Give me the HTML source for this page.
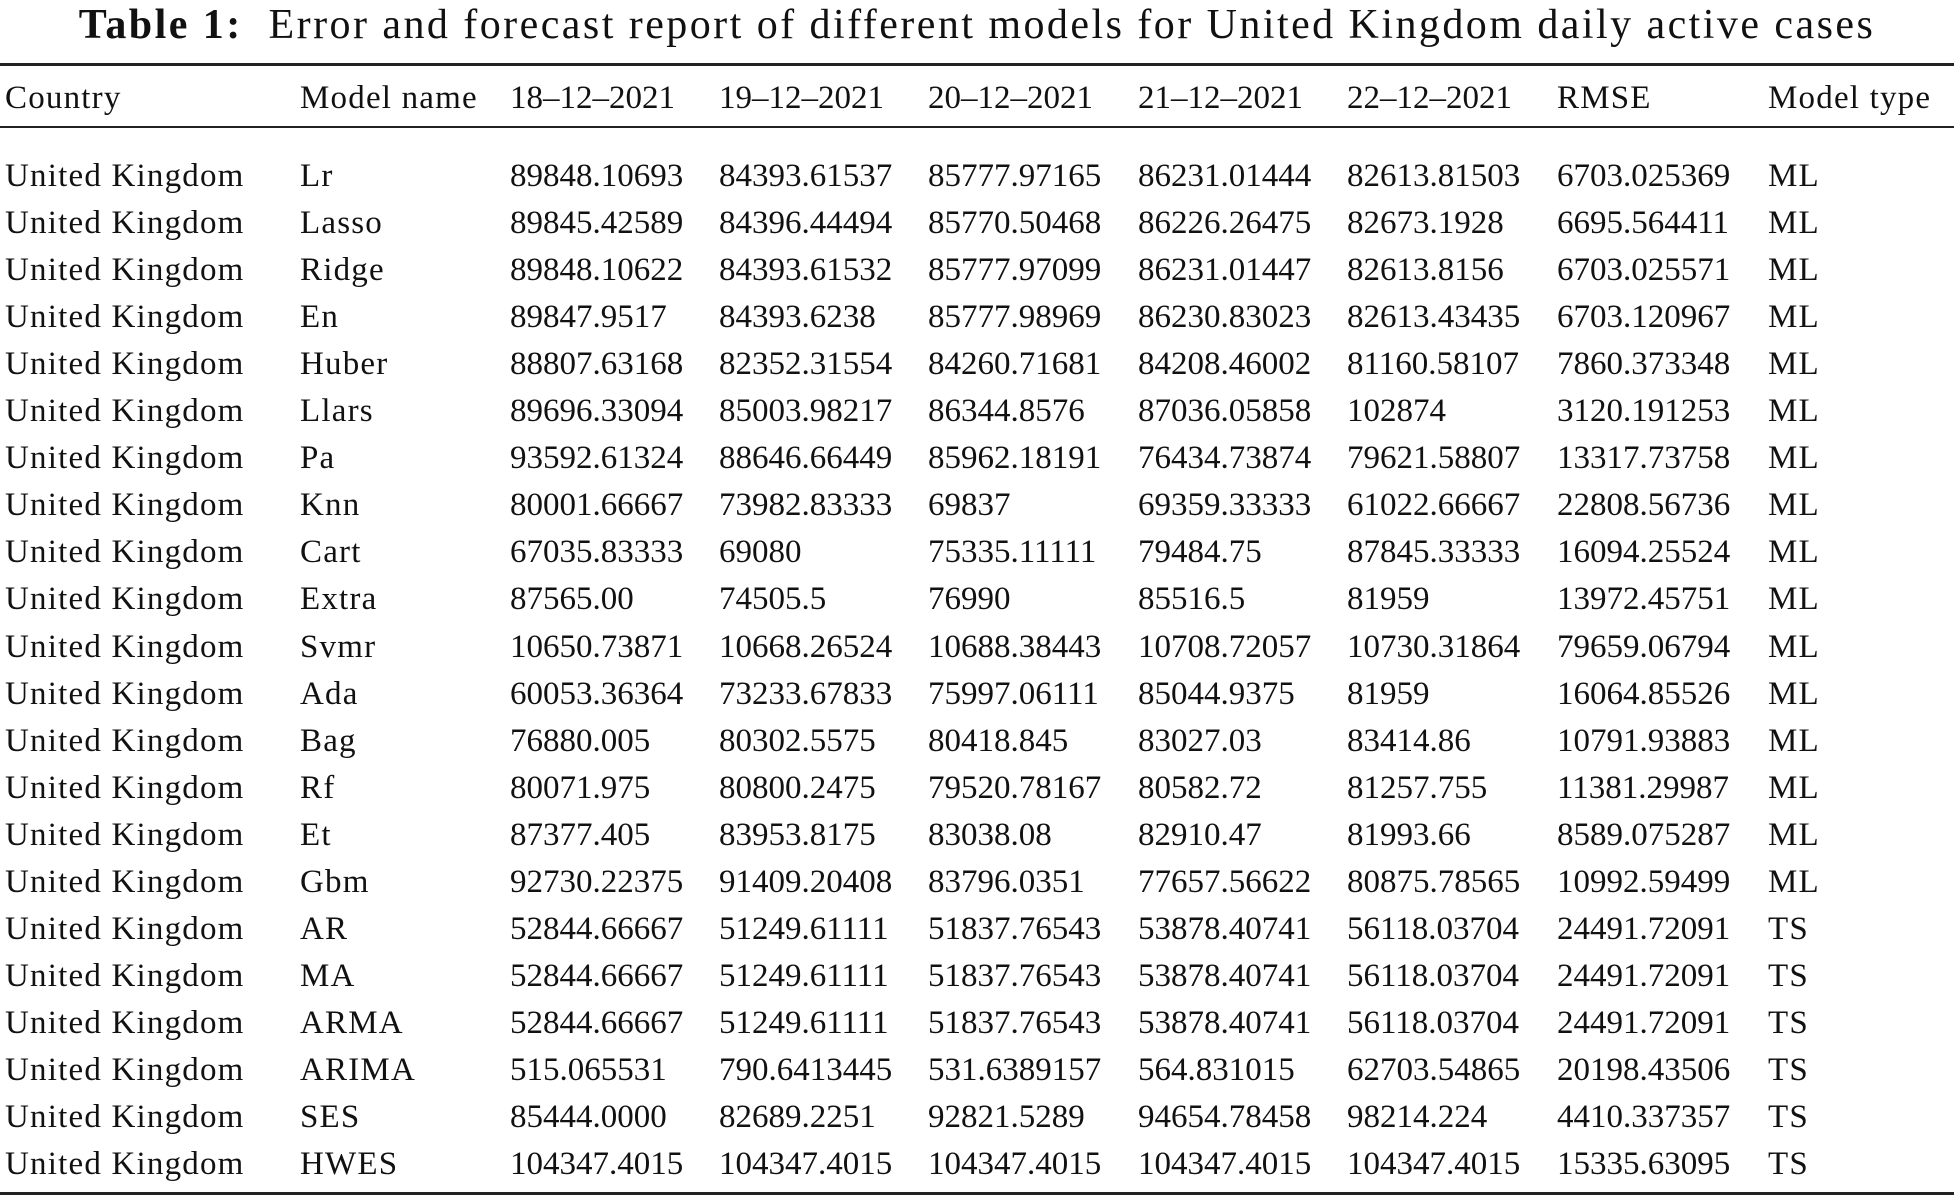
<!DOCTYPE html>
<html><head><meta charset="utf-8"><style>
body{margin:0;width:1954px;height:1200px;background:#fff;position:relative;font-family:"Liberation Serif",serif;color:#111;overflow:hidden}
.t{position:absolute;white-space:nowrap;font-size:33px;line-height:40px}
.w{letter-spacing:1.2px}
.rule{position:absolute;left:0;width:1954px;background:#222}
#title{position:absolute;top:-2px;left:0;width:1954px;text-align:center;font-size:42px;line-height:54px;white-space:nowrap;letter-spacing:2.45px}
</style></head><body>
<div id="title"><b>Table 1:</b>&nbsp; Error and forecast report of different models for United Kingdom daily active cases</div>
<div class="rule" style="top:63px;height:3px"></div>
<div class="rule" style="top:126px;height:2px"></div>
<div class="rule" style="top:1192px;height:3px"></div>
<div id="c"></div>
<script>
const cols=[5,300,510,719,928,1138,1347,1557,1768];
const hdr=["Country","Model name","18–12–2021","19–12–2021","20–12–2021","21–12–2021","22–12–2021","RMSE","Model type"];
const rows=[
["Lr","89848.10693","84393.61537","85777.97165","86231.01444","82613.81503","6703.025369","ML"],
["Lasso","89845.42589","84396.44494","85770.50468","86226.26475","82673.1928","6695.564411","ML"],
["Ridge","89848.10622","84393.61532","85777.97099","86231.01447","82613.8156","6703.025571","ML"],
["En","89847.9517","84393.6238","85777.98969","86230.83023","82613.43435","6703.120967","ML"],
["Huber","88807.63168","82352.31554","84260.71681","84208.46002","81160.58107","7860.373348","ML"],
["Llars","89696.33094","85003.98217","86344.8576","87036.05858","102874","3120.191253","ML"],
["Pa","93592.61324","88646.66449","85962.18191","76434.73874","79621.58807","13317.73758","ML"],
["Knn","80001.66667","73982.83333","69837","69359.33333","61022.66667","22808.56736","ML"],
["Cart","67035.83333","69080","75335.11111","79484.75","87845.33333","16094.25524","ML"],
["Extra","87565.00","74505.5","76990","85516.5","81959","13972.45751","ML"],
["Svmr","10650.73871","10668.26524","10688.38443","10708.72057","10730.31864","79659.06794","ML"],
["Ada","60053.36364","73233.67833","75997.06111","85044.9375","81959","16064.85526","ML"],
["Bag","76880.005","80302.5575","80418.845","83027.03","83414.86","10791.93883","ML"],
["Rf","80071.975","80800.2475","79520.78167","80582.72","81257.755","11381.29987","ML"],
["Et","87377.405","83953.8175","83038.08","82910.47","81993.66","8589.075287","ML"],
["Gbm","92730.22375","91409.20408","83796.0351","77657.56622","80875.78565","10992.59499","ML"],
["AR","52844.66667","51249.61111","51837.76543","53878.40741","56118.03704","24491.72091","TS"],
["MA","52844.66667","51249.61111","51837.76543","53878.40741","56118.03704","24491.72091","TS"],
["ARMA","52844.66667","51249.61111","51837.76543","53878.40741","56118.03704","24491.72091","TS"],
["ARIMA","515.065531","790.6413445","531.6389157","564.831015","62703.54865","20198.43506","TS"],
["SES","85444.0000","82689.2251","92821.5289","94654.78458","98214.224","4410.337357","TS"],
["HWES","104347.4015","104347.4015","104347.4015","104347.4015","104347.4015","15335.63095","TS"]];
let h="";
hdr.forEach((s,i)=>h+=`<div class="t${(i<2||i>=7)?' w':''}" style="left:${cols[i]}px;top:78px">${s}</div>`);
rows.forEach((r,j)=>{const y=156+j*47.05;const a=["United Kingdom",...r];
a.forEach((s,i)=>h+=`<div class="t${(i<2||i==8)?' w':''}" style="left:${cols[i]}px;top:${y}px">${s}</div>`);});
document.getElementById("c").innerHTML=h;
</script>
</body></html>
